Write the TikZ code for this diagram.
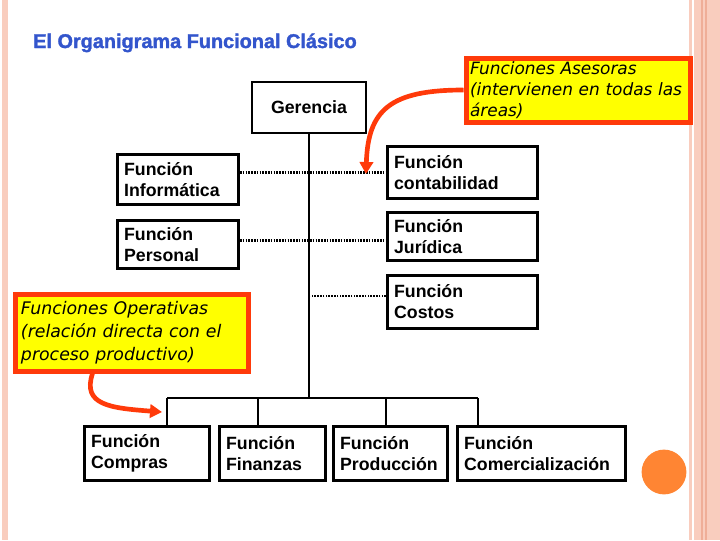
\documentclass[tikz,border=0pt]{standalone}
\usepackage{fontspec}
\setmainfont{Liberation Sans}
\newfontfamily\notafont{DejaVu Sans}
\newfontfamily\titlefont{Liberation Sans}[BoldFeatures={FakeBold=1.6}]
\usetikzlibrary{positioning,arrows.meta,calc}
\definecolor{titleBlue}{HTML}{3355CC}
\definecolor{notaFill}{HTML}{FFFF00}
\definecolor{notaStroke}{HTML}{FF3A0A}
\definecolor{bandLight}{HTML}{F9CDBE}
\definecolor{bandDark}{HTML}{EFAE98}
\definecolor{dotOrange}{HTML}{FF8533}

\begin{document}
\begin{tikzpicture}[
  x=0.75pt, y=-0.75pt,
  fbox/.style  ={draw, line width=2.2pt, anchor=north west, align=left, inner xsep=5pt, inner ysep=0pt, font=\bfseries\fontsize{13.3}{15.6}\selectfont},
  nota/.style  ={draw=notaStroke, fill=notaFill, line width=3.75pt, anchor=north west, align=left, inner xsep=4.5pt, inner ysep=0pt, font=\notafont\itshape\fontsize{13}{16.2}\selectfont},
  linea/.style ={line width=2.2pt},
  punteado/.style={line width=1.6pt, dash pattern=on 1.2pt off 0.9pt},
  flecha/.style={draw=notaStroke, line width=3.5pt, -{Triangle[length=9pt,width=10pt]}},
]
\useasboundingbox (0,0) rectangle (720,540);

% ==================== Page decoration ====================
\fill[bandLight] (2,0) rectangle (8,540);
\fill[bandLight] (689,0) rectangle (692,540);
\fill[bandLight] (694,0) rectangle (720,540);
\draw[bandDark, line width=0.9pt] (702,0) -- (702,540);
\draw[bandDark, line width=0.9pt] (706,0) -- (706,540);
\fill[dotOrange] (664,472) circle[radius=16.8pt];

% ==================== Title ====================
\node[anchor=base west, inner sep=0pt, text=titleBlue, font=\titlefont\bfseries\fontsize{14.9}{17}\selectfont] (titulo) at (33,48) {El Organigrama Funcional Clásico};

% ==================== Top: gerencia ====================
\node[fbox, anchor=center, align=center, minimum width=85.5pt, minimum height=38.25pt] (ger) at (309,107.5) {Gerencia};

% ==================== Staff functions ====================
\node[fbox, text width=80.75pt, minimum height=37.5pt] (inf) at (116,153) {Función\\Informática};
\node[fbox, text width=80.75pt, minimum height=36pt]   (per) at (116,219) {Función\\Personal};

\node[fbox, text width=102.5pt, minimum height=39pt]   (cont) at (386,145) {Función\\contabilidad};
\node[fbox, text width=102.5pt, minimum height=36pt]   (jur)  at (386,211) {Función\\Jurídica};
\node[fbox, text width=102.5pt, minimum height=39.75pt] (cos) at (386,274) {Función\\Costos};

% ==================== Line functions ====================
\node[fbox, text width=83.75pt, minimum height=40.5pt]  (com) at (83,425)  {Función\\Compras};
\node[fbox, text width=69.5pt,  minimum height=40.5pt]  (fin) at (218,425) {Función\\Finanzas};
\node[fbox, text width=75.5pt,  minimum height=40.5pt]  (pro) at (332,425) {Función\\Producción};
\node[fbox, text width=116pt,   minimum height=40.5pt]  (cml) at (456,425) {Función\\Comercialización};

% ==================== Notes ====================
\node[nota, text width=162pt, inner xsep=3pt, minimum height=48pt, font=\notafont\itshape\fontsize{12.7}{15.6}\selectfont] (ase) at (463.5,55.5) {Funciones Asesoras\\(intervienen en todas las\\áreas)};
\node[nota, text width=165.75pt, minimum height=57.75pt, font=\notafont\itshape\fontsize{13}{17.2}\selectfont] (ope) at (12.5,291.5) {Funciones Operativas\\(relación directa con el\\proceso productivo)};

% ==================== Connectors ====================
\coordinate (dCom) at (167,398);
\coordinate (dFin) at (258,398);
\coordinate (dPro) at (386,398);
\coordinate (dCml) at (478,398);

% trunk + bar
\draw[linea] (ger.south) -- (ger.south |- dCom);
\draw[linea] (dCom) -- (dCml);
\draw[linea] (dCom) -- (dCom |- com.north);
\draw[linea] (dFin) -- (dFin |- fin.north);
\draw[linea] (dPro) -- (dPro |- pro.north);
\draw[linea] (dCml) -- (dCml |- cml.north);

% staff links
\draw[punteado] (inf.east |- cont.west) -- (cont.west);
\draw[punteado] ([yshift=3pt]per.east) -- ([yshift=3pt]per.east -| jur.west);
\draw[punteado] ([yshift=4.5pt]cos.west) -- ([yshift=4.5pt]cos.west -| ger.south);

% note arrows
\coordinate (asePunta) at (366,174);
\coordinate (opePunta) at (162,412);
\draw[flecha] (ase.west) .. controls (390,90) and (368,110) .. (asePunta);
\draw[flecha] ($(ope.south west)+(80,0)$) .. controls (82,405) and (110,408) .. (opePunta);

\end{tikzpicture}
\end{document}
